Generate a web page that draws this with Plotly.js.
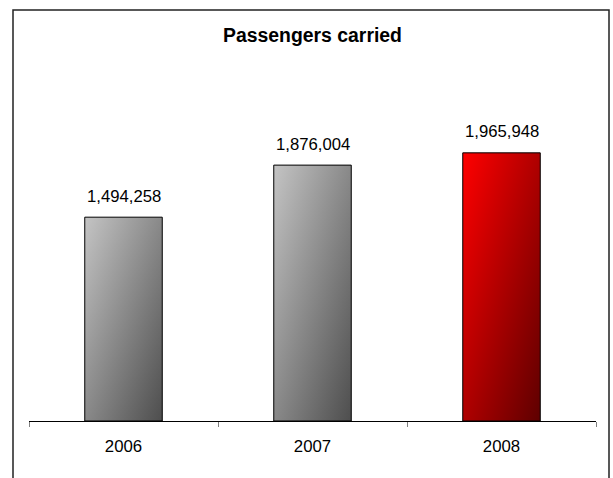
<!DOCTYPE html>
<html>
<head>
<meta charset="utf-8">
<script src="https://cdn.plot.ly/plotly-3.0.1.min.js"></script>
<style>
  html, body { margin: 0; padding: 0; background: #ffffff; }
  #chart { width: 613px; height: 478px; }
</style>
</head>
<body>
<div id="chart"></div>
<script>
// ---- data ----
const years = ['2006', '2007', '2008'];
const passengers = [1494258, 1876004, 1965948];
const gradientIds = ['gradGray', 'gradGray', 'gradRed'];
const chartTitle = 'Passengers carried';

const W = 613, H = 478;
const margin = { l: 29, r: 17, t: 80, b: 57 };
const plotW = W - margin.l - margin.r;   // 567
const plotH = H - margin.t - margin.b;   // 341

function fmt(v) { return v.toLocaleString('en-US'); }

const trace = {
  type: 'bar',
  x: years,
  y: passengers,
  marker: {
    color: ['#8c8c8c', '#8c8c8c', '#c00000'],
    line: { color: '#000000', width: 1 }
  },
  hoverinfo: 'none',
  showlegend: false
};

const annotations = years.map((yr, i) => ({
  x: i, y: passengers[i], xref: 'x', yref: 'y',
  text: fmt(passengers[i]), showarrow: false,
  xanchor: 'center', yanchor: 'middle', yshift: 21,
  font: { family: 'Liberation Sans, Arial, sans-serif', size: 16.7, color: '#000000' }
}));

// outer chart border (paper coordinates computed from pixel frame)
const px2x = p => (p - margin.l) / plotW;
const py2y = p => (H - margin.b - p) / plotH;

const layout = {
  width: W, height: H,
  margin: margin,
  paper_bgcolor: '#ffffff',
  plot_bgcolor: '#ffffff',
  font: { family: 'Liberation Sans, Arial, sans-serif', color: '#000000' },
  title: {
    text: '<b>' + chartTitle + '</b>',
    font: { family: 'Liberation Sans, Arial, sans-serif', size: 19.4, color: '#000000' },
    xref: 'paper', x: 0.5, xanchor: 'center',
    yref: 'container', y: 1 - 35 / H, yanchor: 'middle'
  },
  bargap: 0.59,
  xaxis: {
    type: 'category',
    range: [-0.5, 2.5],
    showline: true, linecolor: '#000000', linewidth: 1,
    ticks: 'outside', tickson: 'boundaries', ticklen: 5, tickcolor: '#808080', tickwidth: 1,
    ticklabelstandoff: 10,
    showgrid: false, zeroline: false,
    tickfont: { family: 'Liberation Sans, Arial, sans-serif', size: 16.8, color: '#000000' },
    fixedrange: true
  },
  yaxis: {
    range: [0, 2500000],
    showticklabels: false, ticks: '', showline: false,
    showgrid: false, zeroline: false,
    fixedrange: true
  },
  annotations: annotations,
  shapes: [{
    type: 'rect', xref: 'paper', yref: 'paper',
    x0: px2x(13), x1: px2x(609), y0: py2y(500), y1: py2y(10),
    line: { color: '#222222', width: 1.5 },
    fillcolor: 'rgba(0,0,0,0)', layer: 'above'
  }]
};

Plotly.newPlot('chart', [trace], layout, { staticPlot: true, displayModeBar: false }).then(function (gd) {
  const svgNS = 'http://www.w3.org/2000/svg';
  const svg = gd.querySelector('svg.main-svg');
  let defs = svg.querySelector('defs');
  if (!defs) { defs = document.createElementNS(svgNS, 'defs'); svg.insertBefore(defs, svg.firstChild); }
  function addGrad(id, c0, c1) {
    const g = document.createElementNS(svgNS, 'linearGradient');
    g.setAttribute('id', id);
    g.setAttribute('x1', '0'); g.setAttribute('y1', '0');
    g.setAttribute('x2', '1'); g.setAttribute('y2', '1');
    [[0, c0], [1, c1]].forEach(function (s) {
      const st = document.createElementNS(svgNS, 'stop');
      st.setAttribute('offset', s[0]);
      st.setAttribute('stop-color', s[1]);
      g.appendChild(st);
    });
    defs.appendChild(g);
  }
  addGrad('gradGray', '#c4c4c4', '#4e4e4e');
  addGrad('gradRed', '#ff0000', '#5e0000');
  const paths = gd.querySelectorAll('.barlayer .point path');
  paths.forEach(function (p, i) {
    p.style.fill = 'url(#' + gradientIds[i] + ')';
    p.style.fillOpacity = 1;
  });
});
</script>
</body>
</html>
